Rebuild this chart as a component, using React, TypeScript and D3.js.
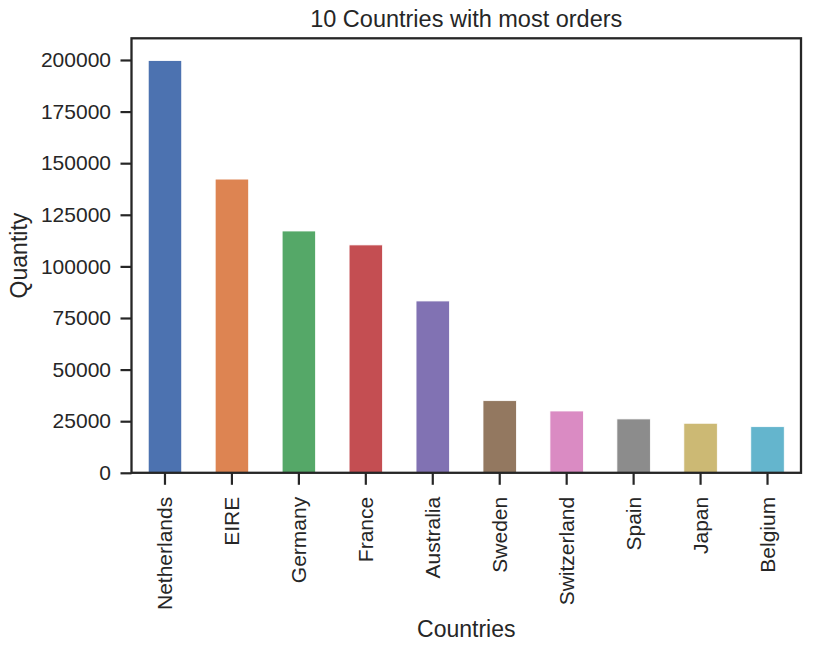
import { useEffect, useRef } from 'react'
import * as d3 from 'd3'

// data
const countries = ['Netherlands', 'EIRE', 'Germany', 'France', 'Australia', 'Sweden', 'Switzerland', 'Spain', 'Japan', 'Belgium']
const quantities = [199700, 142300, 117150, 110400, 83250, 34950, 29950, 26100, 24000, 22350]
const barColors = ['#4C72B0', '#DD8452', '#55A868', '#C44E52', '#8172B3', '#937860', '#DA8BC3', '#8C8C8C', '#CCB974', '#64B5CD']
const yTicks = [0, 25000, 50000, 75000, 100000, 125000, 150000, 175000, 200000]
const yMax = 210500

const title = '10 Countries with most orders'
const xLabel = 'Countries'
const yLabel = 'Quantity'

const w = 818
const h = 652
const marginLeft = 131.5
const marginRight = 17
const marginTop = 38.3
const marginBottom = 179.2

const ink = '#262626'
const font = '"Liberation Sans", Arial, Helvetica, sans-serif'

function App() {
	const ref = useRef<SVGSVGElement>(null)

	useEffect(() => {
		document.body.style.margin = '0'
		const svg = d3.select(ref.current)
		svg.selectAll('*').remove()

		const x = d3.scaleBand()
			.domain(countries)
			.range([marginLeft, w - marginRight])
			.paddingInner(0.5)
			.paddingOuter(0.25)

		const y = d3.scaleLinear()
			.domain([0, yMax])
			.range([h - marginBottom, marginTop])

		const rows = countries.map((c, i) => ({ country: c, qty: quantities[i], color: barColors[i] }))

		// bars
		svg.append('g')
			.selectAll('rect')
			.data(rows)
			.join('rect')
			.attr('x', d => x(d.country)!)
			.attr('y', d => y(d.qty))
			.attr('width', x.bandwidth())
			.attr('height', d => y(0) - y(d.qty))
			.attr('fill', d => d.color)
			.attr('stroke', '#ffffff')
			.attr('stroke-width', 0.8)

		// y axis
		svg.append('g')
			.attr('transform', `translate(${marginLeft}, 0)`)
			.call(d3.axisLeft(y).tickValues(yTicks).tickFormat(d3.format('d')).tickSize(11).tickPadding(9.5))
			.call(g => g.select('.domain').remove())
			.call(g => g.selectAll('line').attr('stroke', ink).attr('stroke-width', 2.2))
			.call(g => g.selectAll('text')
				.attr('fill', ink)
				.attr('font-family', font)
				.attr('font-size', '21px'))

		// x axis
		svg.append('g')
			.attr('transform', `translate(0, ${h - marginBottom})`)
			.call(d3.axisBottom(x).tickSize(12).tickPadding(12))
			.call(g => g.select('.domain').remove())
			.call(g => g.selectAll('line').attr('stroke', ink).attr('stroke-width', 2.2))
			.call(g => g.selectAll('text')
				.attr('fill', ink)
				.attr('font-family', font)
				.attr('font-size', '21px')
				.attr('transform', 'rotate(-90)')
				.attr('text-anchor', 'end')
				.attr('x', -24)
				.attr('y', 0)
				.attr('dy', '0.35em'))

		// frame
		svg.append('rect')
			.attr('x', marginLeft)
			.attr('y', marginTop)
			.attr('width', w - marginRight - marginLeft)
			.attr('height', h - marginBottom - marginTop)
			.attr('fill', 'none')
			.attr('stroke', ink)
			.attr('stroke-width', 2.3)

		// title + labels
		svg.append('text')
			.attr('x', (marginLeft + w - marginRight) / 2)
			.attr('y', 26.5)
			.attr('text-anchor', 'middle')
			.attr('font-family', font)
			.attr('font-size', '23.5px')
			.attr('fill', ink)
			.text(title)

		svg.append('text')
			.attr('x', (marginLeft + w - marginRight) / 2)
			.attr('y', 636.5)
			.attr('text-anchor', 'middle')
			.attr('font-family', font)
			.attr('font-size', '23px')
			.attr('fill', ink)
			.text(xLabel)

		svg.append('text')
			.attr('transform', `translate(18.5, ${(marginTop + h - marginBottom) / 2}) rotate(-90)`)
			.attr('text-anchor', 'middle')
			.attr('dy', '0.35em')
			.attr('font-family', font)
			.attr('font-size', '23px')
			.attr('fill', ink)
			.text(yLabel)
	}, [])

	return <svg ref={ref} width={w} height={h} style={{ display: 'block', background: '#ffffff' }} />
}

export default App
